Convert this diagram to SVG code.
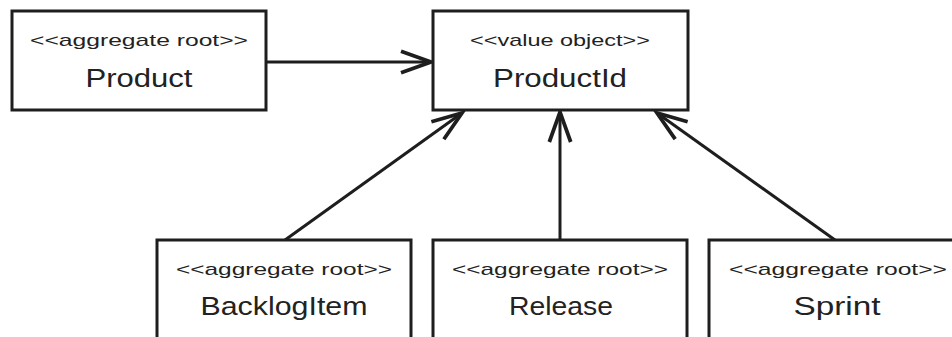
<svg xmlns="http://www.w3.org/2000/svg" width="952" height="337" viewBox="0 0 952 337">
  <style>
    .box { fill: #ffffff; stroke: #1e1e1e; stroke-width: 3; }
    .st { font-family: "Liberation Sans", Arial, sans-serif; font-size: 17px; fill: #222; text-anchor: middle; }
    .nm { font-family: "Liberation Sans", Arial, sans-serif; font-size: 25px; fill: #222; text-anchor: middle; }
    .conn { fill: none; stroke: #1e1e1e; stroke-width: 3; }
  </style>
  <defs>
    <marker id="open" markerUnits="userSpaceOnUse" markerWidth="40" markerHeight="30" viewBox="-32 -14 36 28" refX="0" refY="0" orient="auto" overflow="visible">
      <path d="M -28 -10 L 0 0 L -28 10" fill="none" stroke="#1e1e1e" stroke-width="3.5" stroke-linejoin="miter" stroke-linecap="butt"/>
    </marker>
  </defs>
  <rect width="952" height="337" fill="#ffffff"/>

  <g id="connectors">
    <line class="conn" x1="266" y1="62" x2="431" y2="62" marker-end="url(#open)"/>
    <line class="conn" x1="285" y1="240" x2="462" y2="113" marker-end="url(#open)"/>
    <line class="conn" x1="560" y1="240" x2="560" y2="112" marker-end="url(#open)"/>
    <line class="conn" x1="835" y1="240" x2="657" y2="113" marker-end="url(#open)"/>
  </g>

  <g id="product">
    <rect class="box" x="12" y="11" width="254" height="99"/>
    <text class="st" x="139" y="46" textLength="218" lengthAdjust="spacingAndGlyphs">&lt;&lt;aggregate root&gt;&gt;</text>
    <text class="nm" x="139" y="87" textLength="107" lengthAdjust="spacingAndGlyphs">Product</text>
  </g>

  <g id="productid">
    <rect class="box" x="433" y="11" width="255" height="99"/>
    <text class="st" x="560" y="46" textLength="180" lengthAdjust="spacingAndGlyphs">&lt;&lt;value object&gt;&gt;</text>
    <text class="nm" x="560" y="87" textLength="134" lengthAdjust="spacingAndGlyphs">ProductId</text>
  </g>

  <g id="backlogitem">
    <rect class="box" x="157" y="240" width="254" height="110"/>
    <text class="st" x="284" y="275" textLength="216" lengthAdjust="spacingAndGlyphs">&lt;&lt;aggregate root&gt;&gt;</text>
    <text class="nm" x="284" y="315" textLength="167" lengthAdjust="spacingAndGlyphs">BacklogItem</text>
  </g>

  <g id="release">
    <rect class="box" x="433" y="240" width="254" height="110"/>
    <text class="st" x="560" y="275" textLength="216" lengthAdjust="spacingAndGlyphs">&lt;&lt;aggregate root&gt;&gt;</text>
    <text class="nm" x="561" y="315" textLength="104" lengthAdjust="spacingAndGlyphs">Release</text>
  </g>

  <g id="sprint">
    <rect class="box" x="709" y="240" width="260" height="110"/>
    <text class="st" x="838" y="275" textLength="218" lengthAdjust="spacingAndGlyphs">&lt;&lt;aggregate root&gt;&gt;</text>
    <text class="nm" x="837" y="315" textLength="87" lengthAdjust="spacingAndGlyphs">Sprint</text>
  </g>
</svg>
